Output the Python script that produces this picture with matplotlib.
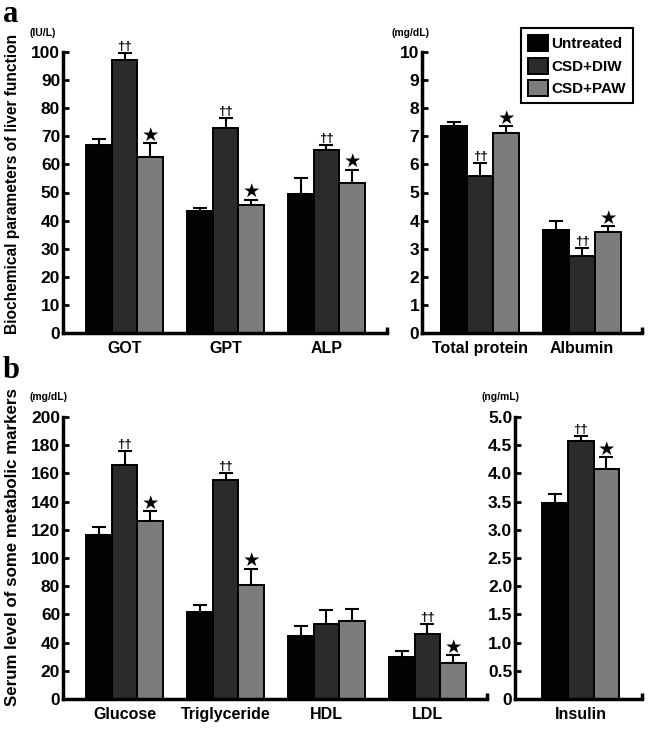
import numpy as np
import matplotlib
matplotlib.use('Agg')
import matplotlib.pyplot as plt
from matplotlib.patches import Patch

plt.rcParams['font.family'] = ['Liberation Sans', 'DejaVu Sans']
plt.rcParams['font.weight'] = 'bold'

groups = ['Untreated', 'CSD+DIW', 'CSD+PAW']
colors = ['#030303', '#2b2b2b', '#7c7c7c']

# panel a, liver enzymes (IU/L)
liver_cats = ['GOT', 'GPT', 'ALP']
liver_untreated = [67.0, 43.5, 49.5]
liver_untreated_err = [2.0, 1.0, 5.5]
liver_diw = [97.0, 73.0, 65.0]
liver_diw_err = [2.5, 3.5, 2.0]
liver_paw = [62.5, 45.5, 53.5]
liver_paw_err = [5.0, 2.0, 4.5]
liver_dagger = [True, True, True]
liver_star = [True, True, True]

# panel a, proteins (mg/dL)
prot_cats = ['Total protein', 'Albumin']
prot_untreated = [7.35, 3.65]
prot_untreated_err = [0.17, 0.35]
prot_diw = [5.6, 2.75]
prot_diw_err = [0.45, 0.28]
prot_paw = [7.1, 3.6]
prot_paw_err = [0.25, 0.2]
prot_dagger = [True, True]
prot_star = [True, True]

# panel b, metabolic markers (mg/dL)
met_cats = ['Glucose', 'Triglyceride', 'HDL', 'LDL']
met_untreated = [116, 61.5, 44.5, 29.5]
met_untreated_err = [6, 5.5, 7.5, 4.5]
met_diw = [166, 155.5, 53.5, 46]
met_diw_err = [10, 4.5, 9.5, 7]
met_paw = [126, 81, 55, 25.5]
met_paw_err = [7, 11.5, 9, 5.5]
met_dagger = [True, True, False, True]
met_star = [True, True, False, True]

# panel b, insulin (ng/mL)
ins_cats = ['Insulin']
ins_untreated = [3.48]
ins_untreated_err = [0.15]
ins_diw = [4.58]
ins_diw_err = [0.08]
ins_paw = [4.07]
ins_paw_err = [0.22]
ins_dagger = [True]
ins_star = [True]

W, H = 648, 729
fig = plt.figure(figsize=(W / 100, H / 100), dpi=100)


def box(left, right, top, bottom):
    return [left / W, 1 - bottom / H, (right - left) / W, (bottom - top) / H]


def panel(ax, cats, series, errs, dagger, star, ylim, step, xlim, fmt):
    x = np.arange(len(cats))
    w = 0.255
    for i, (vals, err) in enumerate(zip(series, errs)):
        xs = x + (i - 1) * w
        ax.bar(xs, vals, w, color=colors[i], edgecolor='black', linewidth=1.4,
               zorder=2)
        ax.errorbar(xs, vals, yerr=[np.zeros(len(vals)), err], fmt='none',
                    ecolor='black', elinewidth=1.5, capsize=5, capthick=1.5,
                    zorder=1)
        for j in range(len(cats)):
            top = vals[j] + err[j]
            if i == 1 and dagger[j]:
                ax.annotate('\u2020\u2020', (xs[j], top), xytext=(0, 0),
                            textcoords='offset points', ha='center',
                            va='bottom', fontsize=9.5, fontweight='bold')
            if i == 2 and star[j]:
                ax.annotate('\u2605', (xs[j], top), xytext=(0, -1),
                            textcoords='offset points', ha='center',
                            va='bottom', fontsize=14,
                            family=['DejaVu Sans'])
    ax.set_xlim(*xlim)
    ax.set_ylim(*ylim)
    ticks = np.arange(ylim[0], ylim[1] + step / 2, step)
    ax.set_yticks(ticks)
    ax.set_yticklabels(['0'] + [fmt.format(t) for t in ticks[1:]])
    ax.set_xticks(x)
    ax.set_xticklabels(cats, fontsize=11.5, fontweight='bold')
    ax.tick_params(axis='x', length=0, pad=6)
    ax.tick_params(axis='y', direction='in', length=4, width=2,
                   labelsize=12.5, pad=2)
    for t in ax.get_yticklabels():
        t.set_fontweight('bold')
    for s in ['top', 'right']:
        ax.spines[s].set_visible(False)
    for s in ['left', 'bottom']:
        ax.spines[s].set_linewidth(2.5)
    ax.plot([1, 1], [0, 0.022], transform=ax.transAxes, color='black',
            linewidth=2.5, clip_on=False, solid_capstyle='butt')


ax1 = fig.add_axes(box(63, 387, 52, 333))
panel(ax1, liver_cats,
      [liver_untreated, liver_diw, liver_paw],
      [liver_untreated_err, liver_diw_err, liver_paw_err],
      liver_dagger, liver_star, (0, 100), 10, (-0.61, 2.6), '{:.0f}')

ax2 = fig.add_axes(box(422, 642, 52, 333))
panel(ax2, prot_cats,
      [prot_untreated, prot_diw, prot_paw],
      [prot_untreated_err, prot_diw_err, prot_paw_err],
      prot_dagger, prot_star, (0, 10), 1, (-0.57, 1.587), '{:.0f}')

ax3 = fig.add_axes(box(63, 487, 417, 699))
panel(ax3, met_cats,
      [met_untreated, met_diw, met_paw],
      [met_untreated_err, met_diw_err, met_paw_err],
      met_dagger, met_star, (0, 200), 20, (-0.61, 3.59), '{:.0f}')

ax4 = fig.add_axes(box(515, 642, 417, 699))
panel(ax4, ins_cats,
      [ins_untreated, ins_diw, ins_paw],
      [ins_untreated_err, ins_diw_err, ins_paw_err],
      ins_dagger, ins_star, (0, 5), 0.5, (-0.65, 0.607), '{:.1f}')

# units
fig.text(43 / W, 1 - 33 / H, '(IU/L)', ha='center', va='center', fontsize=7.5)
fig.text(410 / W, 1 - 33 / H, '(mg/dL)', ha='center', va='center', fontsize=7.5)
fig.text(48 / W, 1 - 397 / H, '(mg/dL)', ha='center', va='center', fontsize=7.5)
fig.text(501 / W, 1 - 397 / H, '(ng/mL)', ha='center', va='center', fontsize=7.5)

# y labels
fig.text(13 / W, 1 - 184 / H, 'Biochemical parameters of liver function',
         rotation=90, ha='center', va='center', fontsize=11.2)
fig.text(13 / W, 1 - 547 / H, 'Serum level of some metabolic markers',
         rotation=90, ha='center', va='center', fontsize=12.2)

# panel letters
fig.text(3 / W, 1 - 22 / H, 'a', fontsize=22, fontweight='bold',
         family='Liberation Serif', va='baseline')
fig.text(3 / W, 1 - 378 / H, 'b', fontsize=22, fontweight='bold',
         family='Liberation Serif', va='baseline')

handles = [Patch(facecolor=c, edgecolor='black', linewidth=1.4) for c in colors]
leg = fig.legend(handles, groups, loc='upper right',
                 bbox_to_anchor=(633 / W, 1 - 28 / H), borderaxespad=0,
                 fancybox=False, edgecolor='black', framealpha=1,
                 prop={'size': 11, 'weight': 'bold'},
                 handlelength=1.3, handleheight=1.25, handletextpad=0.25,
                 labelspacing=0.42, borderpad=0.45)
leg.get_frame().set_linewidth(1.5)

fig.savefig('out.png', dpi=100)
